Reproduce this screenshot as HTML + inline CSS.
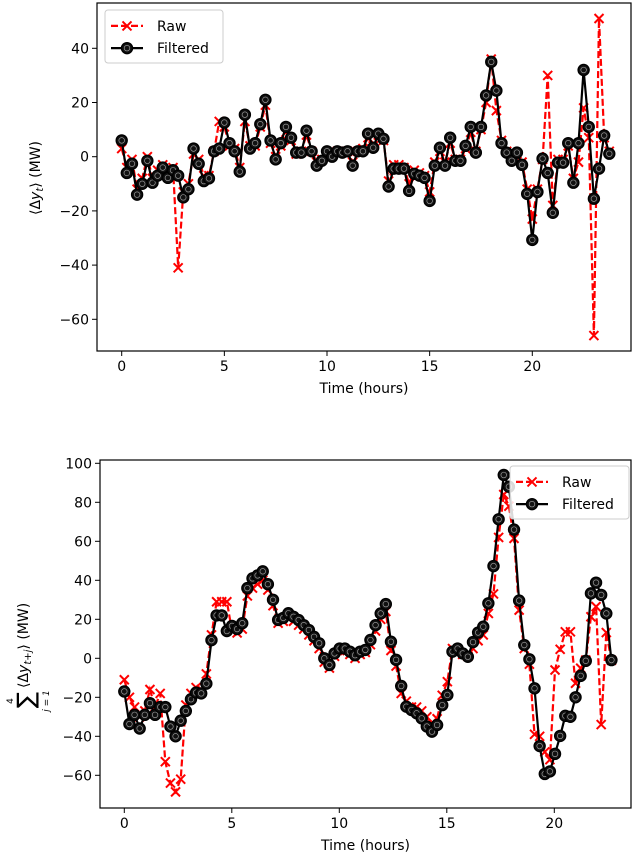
<!DOCTYPE html>
<html><head><meta charset="utf-8"><style>
html,body{margin:0;padding:0;background:#fff;}
svg{display:block;font-family:"DejaVu Sans","Liberation Sans",sans-serif;}
</style></head><body>
<svg id="fig" width="640" height="856" viewBox="0 0 640 856"></svg>
<script>
// ---------- top chart data ----------
const topStep = 0.25;
const topFiltered = [6,-6,-2.6,-14,-10,-1.5,-9.6,-7,-4,-7.8,-5,-7,-15,-12,3,-2.6,-9,-8,2,3,12.6,5,2,-5.5,15.5,3,5,12,21,6,-1,5,11,7,1.5,1.5,9.6,2,-3.3,-1.5,2,0,2,1.5,2,-3.3,2,2,8.5,3.3,8.5,6.6,-11,-4.4,-4.4,-4.4,-12.6,-6.3,-7,-7.8,-16.3,-3.3,3.3,-3.3,7,-1.5,-1.5,4,11,1.5,11,22.6,35,24.4,5,1.5,-1.5,1.5,-3,-13.7,-30.7,-13,-0.7,-6,-20.7,-2.2,-2.2,5,-9.6,5,32,11,-15.5,-4.4,7.8,1.1];
const topRaw = [3,-4,-1,-12,-8,0,-8,-5,-3,-6,-4,-41,-13,-10,1,-1,-7,-7,2,13,11,4,3,-4,13,4,4,11,19,5,0,4,9,6,1,2,8,2,-2,-1,1,1,2,2,2,-2,2,3,7,4,8,6,-9,-3,-3,-4,-10,-5,-6,-7,-13,-2,2,-2,5,-1,-1,3,9,2,10,20,36,17,6,2,-1,1,-2,-12,-23,-12,-1,30,-18,-1,-1,4,-8,-2,18,7,-66,51,7,2];
const topYTicks = [40,20,0,-20,-40,-60];
const xTicks = [0,5,10,15,20];

// ---------- bottom chart data ----------
const botStep = 0.2385;
const botFiltered = [-17,-33.7,-29,-36,-29,-23,-29,-25,-25,-35,-40,-32,-27,-21,-17.6,-18,-13,9.3,22,22,14,16.6,15,18,36,41,42.5,44.6,38,30,19.7,20.7,23.1,21.3,19.6,17,14.5,11,7.7,0,-3.4,2.5,5,5,3.4,1.6,3.4,4.3,9.4,17,23,27.8,8.5,-0.8,-14.2,-24.8,-26.5,-28.2,-30.8,-35,-37.6,-34.2,-24,-18.8,3.4,5,2.5,0.8,8.3,13.2,16.2,28.2,47.3,71.3,94,88,66,29.6,6.8,-0.5,-15.4,-45,-59.3,-58,-49,-39.8,-29.5,-30,-20,-9,-1.3,33.3,38.8,32.5,23,-0.9];
const botRaw = [-11,-20,-25,-30,-27,-16,-25,-18,-53,-64,-68.5,-62,-24,-18,-15,-16,-8,12,29,29,29,14,13,15,32,36,38,40,35,27,18,19,21,19,17,15,12,9,5,-2,-5,1,4,4,2,0,2,3,7,14,20,24,4,-4,-18,-22,-25,-25,-27,-30,-33,-31,-19,-12,5,4,2,1,5,9,12,23,33,62,84,78,61.5,24.7,5,-3,-39,-40,-48,-52,-6,4.6,13.6,13.6,-12.8,-5.1,-0.9,21.3,26.5,-34,13.2,-1];
const botYTicks = [100,80,60,40,20,0,-20,-40,-60];

const NS = "http://www.w3.org/2000/svg";
const svg = document.getElementById("fig");
function mk(tag, attrs, parent){ const e=document.createElementNS(NS,tag); for(const k in attrs) e.setAttribute(k,attrs[k]); (parent||svg).appendChild(e); return e; }

function drawChart(cfg){
  const g = mk("g",{});
  
  
  const X = t => cfg.x0 + cfg.xs*t;
  const Y = v => cfg.y0 - cfg.ys*v;
  const fr = mk("rect",{x:cfg.L,y:cfg.T,width:cfg.R-cfg.L,height:cfg.B-cfg.T,fill:"none",stroke:"#000","stroke-width":1.2},g);
  
  
  xTicks.forEach(t=>{
    mk("line",{x1:X(t),x2:X(t),y1:cfg.B,y2:cfg.B+5,stroke:"#000","stroke-width":1},g);
    const tx = mk("text",{x:X(t),y:cfg.B+20,"font-size":14,"text-anchor":"middle",fill:"#000"},g);
    tx.textContent = t;
    
    
  });
  cfg.yTicks.forEach(v=>{
    mk("line",{x1:cfg.L-5,x2:cfg.L,y1:Y(v),y2:Y(v),stroke:"#000","stroke-width":1},g);
    const tx = mk("text",{x:cfg.L-8,y:Y(v)+5,"font-size":14,"text-anchor":"end",fill:"#000"},g);
    tx.textContent = v<0 ? "\u2212"+(-v) : v;
    
    
  });
  const xt = mk("text",{x:(cfg.L+cfg.R)/2,y:cfg.B+42,"font-size":14,"text-anchor":"middle",fill:"#000"},g);
  xt.textContent = "Time (hours)";
  
  
  const rp = cfg.raw.map((v,i)=>X(i*cfg.step).toFixed(1)+","+Y(v).toFixed(1)).join(" ");
  const rl = mk("polyline",{points:rp,fill:"none",stroke:"#ff0000","stroke-width":2.2,"stroke-dasharray":"7,3"},g);
  
  
  cfg.raw.forEach((v,i)=>{
    const cx=X(i*cfg.step), cy=Y(v), s=4.5;
    const p = mk("path",{d:`M${cx-s},${cy-s}L${cx+s},${cy+s}M${cx-s},${cy+s}L${cx+s},${cy-s}`,stroke:"#ff0000","stroke-width":2,fill:"none"},g);
    
    
  });
  const fp = cfg.filt.map((v,i)=>X(i*cfg.step).toFixed(1)+","+Y(v).toFixed(1)).join(" ");
  const fl = mk("polyline",{points:fp,fill:"none",stroke:"#000","stroke-width":2.2},g);
  
  
  cfg.filt.forEach((v,i)=>{
    const cx=X(i*cfg.step), cy=Y(v);
    const c = mk("circle",{cx:cx,cy:cy,r:5.5,fill:"#111",stroke:"#000","stroke-width":1.4},g);
    
    
    mk("circle",{cx:cx,cy:cy,r:2.8,fill:"none",stroke:"#999","stroke-width":0.7},g);
  });
  const lg = mk("g",{},g);
  
  
  const L = cfg.leg;
  mk("rect",{x:L.x,y:L.y,width:L.w,height:L.h,rx:3,fill:"#fff","fill-opacity":0.85,stroke:"#ccc","stroke-width":1},lg);
  const r1 = L.y+L.h*0.3, r2 = L.y+L.h*0.72;
  mk("line",{x1:L.x+6,x2:L.x+38,y1:r1,y2:r1,stroke:"#f00","stroke-width":2.2,"stroke-dasharray":"7,3"},lg);
  const cx1=L.x+22;
  mk("path",{d:`M${cx1-4.5},${r1-4.5}L${cx1+4.5},${r1+4.5}M${cx1-4.5},${r1+4.5}L${cx1+4.5},${r1-4.5}`,stroke:"#f00","stroke-width":2},lg);
  const t1 = mk("text",{x:L.x+52,y:r1+5,"font-size":14,fill:"#000"},lg); t1.textContent="Raw";
  
  
  mk("line",{x1:L.x+6,x2:L.x+38,y1:r2,y2:r2,stroke:"#000","stroke-width":2.2},lg);
  mk("circle",{cx:cx1,cy:r2,r:5.5,fill:"#111",stroke:"#000","stroke-width":1.4},lg);
  mk("circle",{cx:cx1,cy:r2,r:2.8,fill:"none",stroke:"#999","stroke-width":0.7},lg);
  const t2 = mk("text",{x:L.x+52,y:r2+5,"font-size":14,fill:"#000"},lg); t2.textContent="Filtered";
  
  
  return g;
}

drawChart({name:"top-chart",L:97,R:631,T:3,B:351,x0:121.7,xs:20.53,y0:156.7,ys:2.71,yTicks:topYTicks,step:topStep,raw:topRaw,filt:topFiltered,leg:{x:105,y:10,w:118,h:53}});
drawChart({name:"bottom-chart",L:100,R:631,T:460,B:808,x0:124.3,xs:21.5,y0:658.3,ys:1.95,yTicks:botYTicks,step:botStep,raw:botRaw,filt:botFiltered,leg:{x:510,y:466,w:119,h:53}});

// y-axis titles
const yt1 = mk("text",{x:0,y:0,"font-size":14,"text-anchor":"middle",transform:"translate(40,178) rotate(-90)",fill:"#000"});
yt1.innerHTML = '\u27E8\u0394<tspan font-style="italic">y</tspan><tspan font-size="10" font-style="italic" dy="3">t</tspan><tspan dy="-3">\u27E9 (MW)</tspan>';



const sg = mk("text",{x:0,y:0,"font-size":24,"text-anchor":"middle",transform:"translate(34,700) rotate(-90)",fill:"#000"});
sg.textContent = "\u2211";


const yt2 = mk("text",{x:0,y:0,"font-size":14,"text-anchor":"start",transform:"translate(28,688) rotate(-90)",fill:"#000"});
yt2.innerHTML = '\u27E8\u0394<tspan font-style="italic">y</tspan><tspan font-size="10" font-style="italic" dy="3">t+j</tspan><tspan dy="-3">\u27E9 (MW)</tspan>';


const s1 = mk("text",{x:0,y:0,"font-size":9,"text-anchor":"middle","font-style":"italic",transform:"translate(49,701) rotate(-90)",fill:"#000"});
s1.textContent = "j = 1";


const s2 = mk("text",{x:0,y:0,"font-size":9,"text-anchor":"middle",transform:"translate(13,701) rotate(-90)",fill:"#000"});
s2.textContent = "4";


</script>
</body></html>
